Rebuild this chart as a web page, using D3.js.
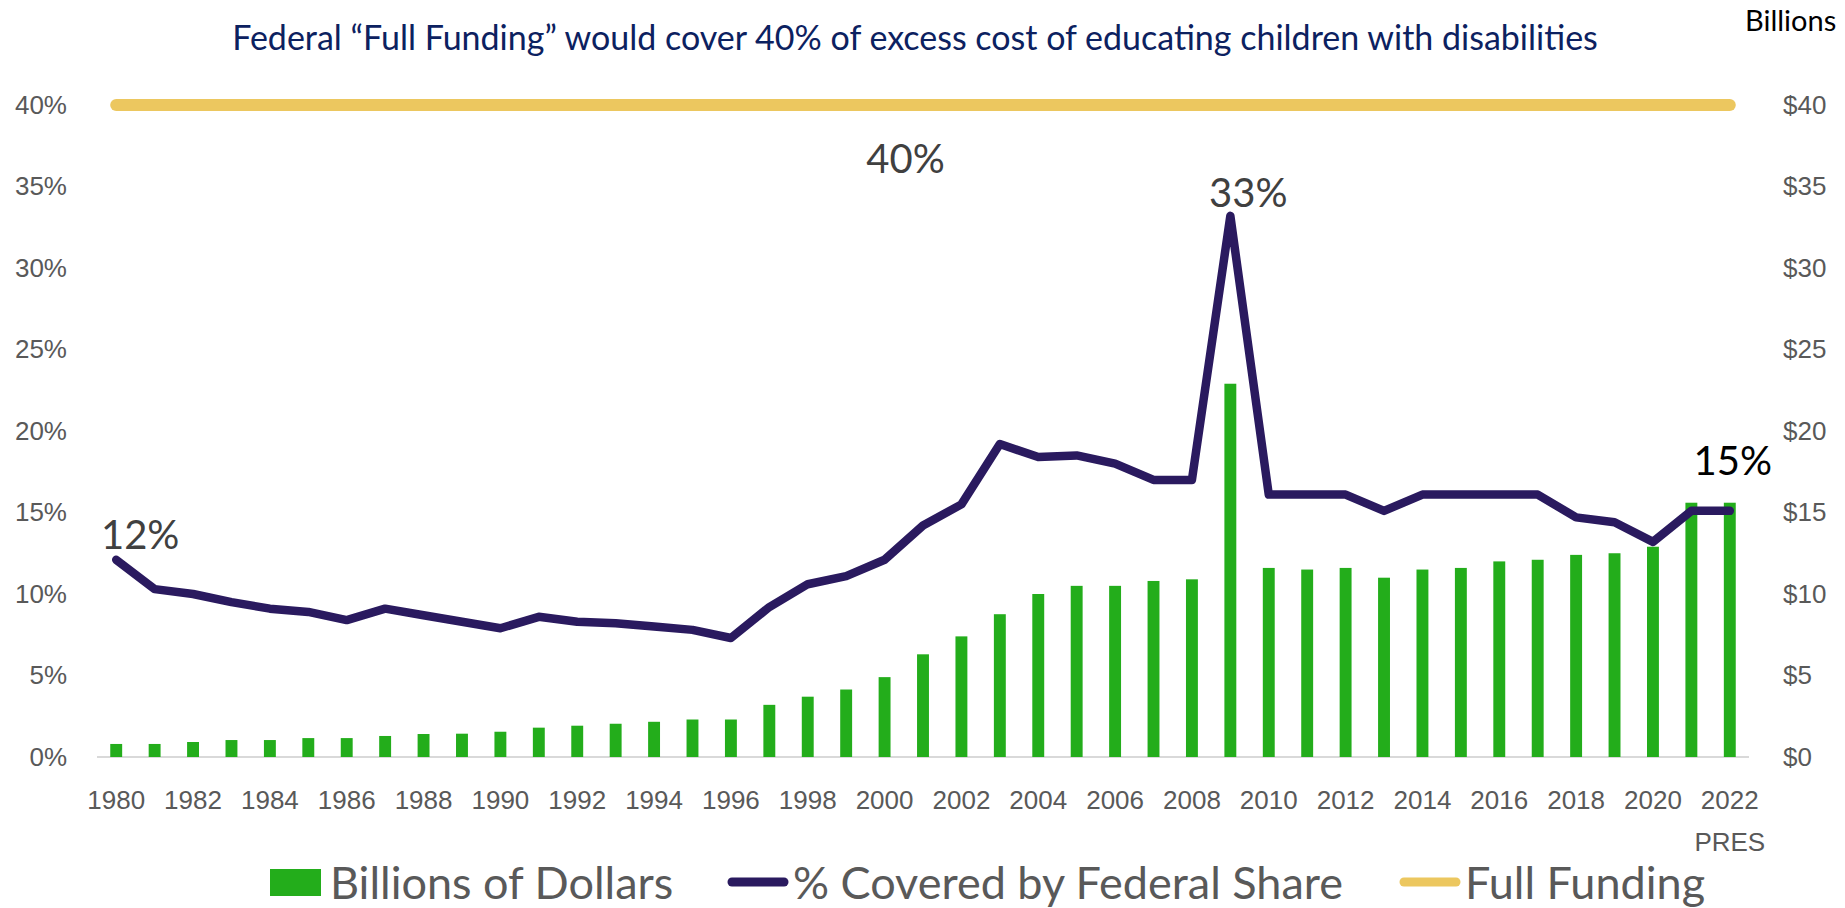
<!DOCTYPE html>
<html lang="en">
<head>
<meta charset="utf-8">
<title>Federal Full Funding</title>
<script src="https://d3js.org/d3.v7.min.js"></script>
<style>
  body { margin: 0; background: #ffffff; }
  svg { display: block; font-family: Lato, "Open Sans", sans-serif; }
  .tick text { fill: #595959; }
</style>
</head>
<body>
<svg width="1845" height="908"></svg>
<script>
// data
const years = d3.range(1980, 2023);
const billions = [0.80, 0.80, 0.92, 1.04, 1.04, 1.16, 1.16, 1.29, 1.41, 1.43,
                  1.55, 1.80, 1.92, 2.04, 2.16, 2.30, 2.30, 3.20, 3.70, 4.14,
                  4.90, 6.30, 7.40, 8.76, 10.0, 10.5, 10.5, 10.8, 10.9, 22.9,
                  11.6, 11.5, 11.6, 11.0, 11.5, 11.6, 12.0, 12.1, 12.4, 12.5,
                  12.9, 15.6, 15.6];
const federalShare = [12.1, 10.3, 10.0, 9.5, 9.1, 8.9, 8.4, 9.1, 8.7, 8.3,
                      7.9, 8.6, 8.3, 8.2, 8.0, 7.8, 7.3, 9.2, 10.6, 11.1,
                      12.1, 14.2, 15.5, 19.2, 18.4, 18.5, 18.0, 17.0, 17.0, 33.2,
                      16.1, 16.1, 16.1, 15.1, 16.1, 16.1, 16.1, 16.1, 14.7, 14.4,
                      13.2, 15.1, 15.1];
const fullFunding = [40, 40, 40, 40, 40, 40, 40, 40, 40, 40, 40, 40, 40, 40, 40, 40,
                     40, 40, 40, 40, 40, 40, 40, 40, 40, 40, 40, 40, 40, 40, 40, 40,
                     40, 40, 40, 40, 40, 40, 40, 40, 40, 40, 40];
const leftTicks = [0, 5, 10, 15, 20, 25, 30, 35, 40];
const rightTicks = [0, 5, 10, 15, 20, 25, 30, 35, 40];
const xTickYears = d3.range(1980, 2023, 2);
const seriesNames = ["Billions of Dollars", "% Covered by Federal Share", "Full Funding"];
const titleText = "Federal \u201CFull Funding\u201D would cover 40% of excess cost of educating children with disabilities";

const svg = d3.select("svg");
const green = "#23ad1b", purple = "#2a1a5f", gold = "#ecc75f";

// scales
const x = d3.scaleBand().domain(years).range([97, 1749])
    .paddingInner(0.69).paddingOuter(0.345);
const cx = d => x(d) + x.bandwidth() / 2;
const yL = d3.scaleLinear().domain([0, 40]).range([757, 105]);
const yR = d3.scaleLinear().domain([0, 40]).range([757, 105]);

// title
svg.append("text")
    .attr("x", 915).attr("y", 38).attr("dy", "0.35em")
    .attr("text-anchor", "middle")
    .style("font-size", "34px").style("fill", "#0c2160")
    .text(titleText);

svg.append("text")
    .attr("x", 1745).attr("y", 21).attr("dy", "0.35em")
    .style("font-size", "29px").style("fill", "#000")
    .text("Billions");

// axes
const leftAxis = svg.append("g").attr("transform", "translate(67,0)")
    .call(d3.axisLeft(yL).tickValues(leftTicks).tickSize(0).tickPadding(0)
        .tickFormat(d => d + "%"));
const rightAxis = svg.append("g").attr("transform", "translate(1783,0)")
    .call(d3.axisRight(yR).tickValues(rightTicks).tickSize(0).tickPadding(0)
        .tickFormat(d => "$" + d));
const bottomAxis = svg.append("g").attr("transform", "translate(0,757)")
    .call(d3.axisBottom(x).tickValues(xTickYears).tickSize(0).tickPadding(34));
[leftAxis, rightAxis, bottomAxis].forEach(g => {
    g.select(".domain").remove();
    g.selectAll("text").style("font-size", "26px");
});
bottomAxis.selectAll(".tick").filter(d => d === 2022).append("text")
    .attr("y", 76).attr("dy", "0.71em")
    .style("font-size", "26px").style("fill", "#595959")
    .text("PRES");

// baseline
svg.append("line")
    .attr("x1", 97).attr("x2", 1749).attr("y1", 757).attr("y2", 757)
    .attr("stroke", "#d9d9d9").attr("stroke-width", 2);

// bars
svg.append("g").selectAll("rect")
    .data(billions)
    .join("rect")
    .attr("x", (d, i) => x(years[i]))
    .attr("width", x.bandwidth())
    .attr("y", d => yR(d))
    .attr("height", d => yR(0) - yR(d))
    .attr("fill", green);

// full funding line
svg.append("path")
    .datum(fullFunding)
    .attr("fill", "none").attr("stroke", gold)
    .attr("stroke-width", 12).attr("stroke-linecap", "round")
    .attr("d", d3.line().x((d, i) => cx(years[i])).y(d => yL(d)));

// federal share line
svg.append("path")
    .datum(federalShare)
    .attr("fill", "none").attr("stroke", purple)
    .attr("stroke-width", 8.5).attr("stroke-linejoin", "round").attr("stroke-linecap", "round")
    .attr("d", d3.line().x((d, i) => cx(years[i])).y(d => yL(d)));

// data labels
const labels = [
    {year: 1980, dx: 24, dy: -25, color: "#404040"},
    {year: 2009, dx: 18, dy: -23, color: "#404040"},
    {year: 2022, dx: 3, dy: -50, color: "#000000"}
];
svg.append("g").selectAll("text")
    .data(labels)
    .join("text")
    .attr("x", d => cx(d.year) + d.dx)
    .attr("y", d => yL(federalShare[years.indexOf(d.year)]) + d.dy)
    .attr("dy", "0.35em").attr("text-anchor", "middle")
    .style("font-size", "40px").style("fill", d => d.color)
    .text(d => Math.round(federalShare[years.indexOf(d.year)]) + "%");

svg.append("text")
    .attr("x", cx(2000) + 21).attr("y", yL(fullFunding[20]) + 54)
    .attr("dy", "0.35em").attr("text-anchor", "middle")
    .style("font-size", "40px").style("fill", "#404040")
    .text(fullFunding[20] + "%");

// legend
const legend = svg.append("g").style("font-size", "45px").style("fill", "#595959");
legend.append("rect").attr("x", 270).attr("y", 869).attr("width", 51).attr("height", 27).attr("fill", green);
legend.append("text").attr("x", 330).attr("y", 883).attr("dy", "0.35em").text(seriesNames[0]);
legend.append("line").attr("x1", 732).attr("x2", 784).attr("y1", 882).attr("y2", 882)
    .attr("stroke", purple).attr("stroke-width", 9).attr("stroke-linecap", "round");
legend.append("text").attr("x", 793).attr("y", 883).attr("dy", "0.35em").text(seriesNames[1]);
legend.append("line").attr("x1", 1404).attr("x2", 1456).attr("y1", 882).attr("y2", 882)
    .attr("stroke", gold).attr("stroke-width", 9).attr("stroke-linecap", "round");
legend.append("text").attr("x", 1465).attr("y", 883).attr("dy", "0.35em").text(seriesNames[2]);
</script>
</body>
</html>
